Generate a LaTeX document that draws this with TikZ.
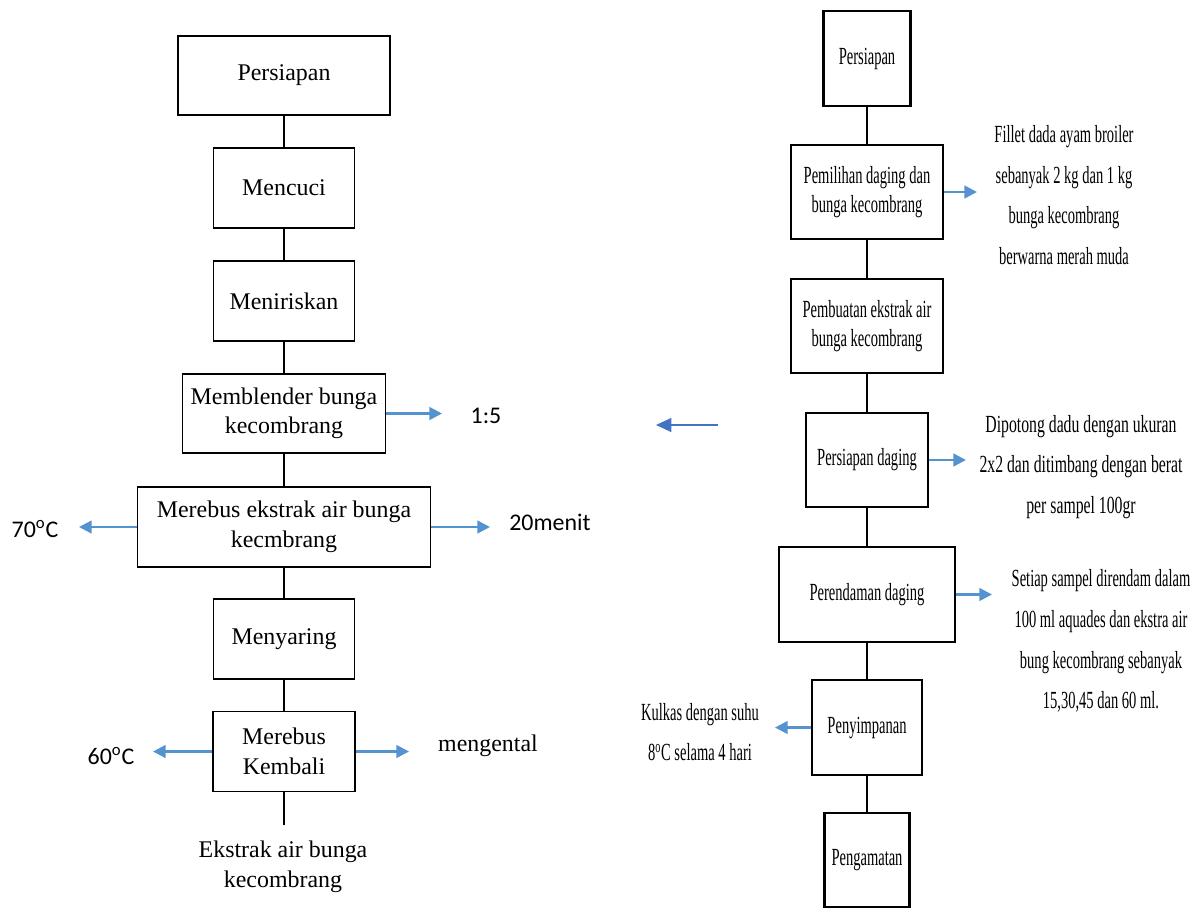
\documentclass[tikz,border=0pt]{standalone}
\usepackage{fontspec}
\setmainfont{Liberation Serif}
\newfontfamily\timesfont{Liberation Serif}
\newfontfamily\condfont[FakeStretch=0.59]{Liberation Serif}
\newfontfamily\condwide[FakeStretch=0.64]{Liberation Serif}
\newfontfamily\calfont{Carlito}
\usetikzlibrary{arrows.meta}

\definecolor{flowblue}{RGB}{84,146,208}
\definecolor{darkblue}{RGB}{68,114,196}

\tikzset{
  leftbox/.style={draw, line width=1.1pt, align=center, inner sep=0pt, font=\timesfont\fontsize{17}{21}\selectfont},
  rightbox/.style={draw, line width=1.6pt, align=center, inner sep=0pt, font=\condfont\fontsize{17.5}{21}\selectfont},
  note/.style={align=center, font=\condfont\fontsize{17.5}{29}\selectfont},
  sidelabel/.style={font=\calfont\fontsize{17}{21}\selectfont},
  flow/.style={draw=flowblue, line width=1.7pt, -{Triangle[length=9pt,width=9pt]}},
  link/.style={line width=1.1pt}
}

\begin{document}
\begin{tikzpicture}[x=0.025cm, y=-0.025cm]
\useasboundingbox (0,0) rectangle (1198,909);

\node[leftbox, minimum width=5.3cm, minimum height=1.975cm] (persiapan) at (284,75.5) {Persiapan};
\node[leftbox, minimum width=3.525cm, minimum height=2cm] (mencuci) at (284,188) {Mencuci};
\node[leftbox, minimum width=3.525cm, minimum height=2cm] (meniriskan) at (284,301) {Meniriskan};
\node[leftbox, minimum width=5.075cm, minimum height=1.975cm] (memblender) at (284,413.5) {Memblender bunga\\kecombrang};
\node[leftbox, minimum width=7.325cm, minimum height=2cm] (merebus) at (284,527) {Merebus ekstrak air bunga\\kecmbrang};
\node[leftbox, minimum width=3.525cm, minimum height=2cm] (menyaring) at (284,639) {Menyaring};
\node[leftbox, minimum width=3.55cm, minimum height=2cm] (kembali) at (284,751.5) {Merebus\\Kembali};
\coordinate (ujung) at (284,825);
\node[align=center, font=\timesfont\fontsize{17}{21}\selectfont] (ekstrak) at (283,867) {Ekstrak air bunga\\kecombrang};

\draw[link] (persiapan) -- (mencuci);
\draw[link] (mencuci) -- (meniriskan);
\draw[link] (meniriskan) -- (memblender);
\draw[link] (memblender) -- (merebus);
\draw[link] (merebus) -- (menyaring);
\draw[link] (menyaring) -- (kembali);
\draw[link] (kembali) -- (ujung);

\coordinate (rasioA) at (442,413.5);
\node[sidelabel] (rasio) at (486,416) {1:5};
\coordinate (suhuA) at (79,527);
\node[sidelabel] (suhu) at (35,529) {70\textsuperscript{o}C};
\coordinate (waktuA) at (490,527);
\node[sidelabel] (waktu) at (550,522) {20menit};
\coordinate (suhuB) at (153,751.5);
\node[sidelabel] (suhu2) at (111,756) {60\textsuperscript{o}C};
\coordinate (kentalA) at (409,751.5);
\node[font=\timesfont\fontsize{17}{21}\selectfont] (kental) at (488,746) {mengental};

\draw[flow] (memblender.east) -- (rasioA);
\draw[flow] (merebus.west) -- (suhuA);
\draw[flow] (merebus.east) -- (waktuA);
\draw[flow] (kembali.west) -- (suhuB);
\draw[flow] (kembali.east) -- (kentalA);

\coordinate (panahA) at (718,425);
\coordinate (panahB) at (656,425);
\draw[darkblue, line width=0.9pt, -{Triangle[length=11pt,width=10pt]}] (panahA) -- (panahB);

\node[rightbox, minimum width=2.175cm, minimum height=2.375cm] (rpersiapan) at (867,58.5) {Persiapan};
\node[rightbox, minimum width=3.79cm, minimum height=2.35cm] (pemilihan) at (867,192) {Pemilihan daging dan\\bunga kecombrang};
\node[rightbox, minimum width=3.79cm, minimum height=2.35cm] (pembuatan) at (867,326) {Pembuatan ekstrak air\\bunga kecombrang};
\node[rightbox, minimum width=3.05cm, minimum height=2.35cm] (pdaging) at (867,460) {Persiapan daging};
\node[rightbox, minimum width=4.4cm, minimum height=2.375cm] (perendaman) at (867,594.5) {Perendaman daging};
\node[rightbox, minimum width=2.75cm, minimum height=2.375cm] (penyimpanan) at (867,727.5) {Penyimpanan};
\node[rightbox, minimum width=2.125cm, minimum height=2.35cm] (pengamatan) at (867,860) {Pengamatan};

\draw[link, line width=1.3pt] (rpersiapan) -- (pemilihan);
\draw[link, line width=1.3pt] (pemilihan) -- (pembuatan);
\draw[link, line width=1.3pt] (pembuatan) -- (pdaging);
\draw[link, line width=1.3pt] (pdaging) -- (perendaman);
\draw[link, line width=1.3pt] (perendaman) -- (penyimpanan);
\draw[link, line width=1.3pt] (penyimpanan) -- (pengamatan);

\node[note] (fillet) at (1064,195) {Fillet dada ayam broiler\\sebanyak 2 kg dan 1 kg\\bunga kecombrang\\berwarna merah muda};
\node[note, font=\condwide\fontsize{17.5}{29}\selectfont] (dipotong) at (1081,467) {Dipotong dadu dengan ukuran\\2x2 dan ditimbang dengan berat\\per sampel 100gr};
\node[note] (setiap) at (1101,641) {Setiap sampel direndam dalam\\100 ml aquades dan ekstra air\\bung kecombrang sebanyak\\15,30,45 dan 60 ml.};
\node[note] (kulkas) at (700,732) {Kulkas dengan suhu\\8\textsuperscript{o}C selama 4 hari};

\coordinate (filletA) at (977,192);
\coordinate (dipotongA) at (966,460);
\coordinate (setiapA) at (992,594.5);
\coordinate (kulkasA) at (775,727.5);

\draw[flow] (pemilihan.east) -- (filletA);
\draw[flow] (pdaging.east) -- (dipotongA);
\draw[flow] (perendaman.east) -- (setiapA);
\draw[flow] (penyimpanan.west) -- (kulkasA);

\end{tikzpicture}
\end{document}
